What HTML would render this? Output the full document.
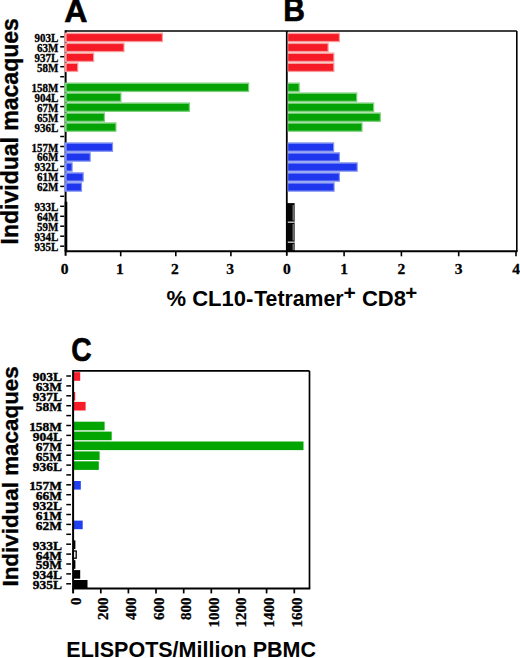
<!DOCTYPE html><html><head><meta charset="utf-8"><style>html,body{margin:0;padding:0;background:#fff;}svg{display:block}.sf{font-family:"Liberation Serif",serif;font-weight:bold}.ss{font-family:"Liberation Sans",sans-serif;font-weight:bold}</style></head><body>
<svg width="520" height="658" viewBox="0 0 520 658">
<rect width="520" height="658" fill="#fff"/>
<g stroke="#000" fill="none">
<line x1="65.6" y1="31.0" x2="516.8" y2="31.0" stroke-width="1.6"/>
<line x1="516.8" y1="31.0" x2="516.8" y2="251.3" stroke-width="1.6"/>
<line x1="64.8" y1="251.3" x2="517.5999999999999" y2="251.3" stroke-width="2"/>
<line x1="65.6" y1="30.2" x2="65.6" y2="255.8" stroke-width="2"/>
<line x1="286.8" y1="31.0" x2="286.8" y2="255.8" stroke-width="1.8"/>
<line x1="120.7" y1="251.3" x2="120.7" y2="256.3" stroke-width="1.6"/>
<line x1="175.8" y1="251.3" x2="175.8" y2="256.3" stroke-width="1.6"/>
<line x1="230.9" y1="251.3" x2="230.9" y2="256.3" stroke-width="1.6"/>
<line x1="344.1" y1="251.3" x2="344.1" y2="256.3" stroke-width="1.6"/>
<line x1="401.4" y1="251.3" x2="401.4" y2="256.3" stroke-width="1.6"/>
<line x1="458.7" y1="251.3" x2="458.7" y2="256.3" stroke-width="1.6"/>
<line x1="516.0" y1="251.3" x2="516.0" y2="256.3" stroke-width="1.6"/>
<line x1="60.2" y1="36.8" x2="64.2" y2="36.8" stroke-width="1.5"/>
<line x1="60.2" y1="46.8" x2="64.2" y2="46.8" stroke-width="1.5"/>
<line x1="60.2" y1="56.7" x2="64.2" y2="56.7" stroke-width="1.5"/>
<line x1="60.2" y1="66.7" x2="64.2" y2="66.7" stroke-width="1.5"/>
<line x1="60.2" y1="76.7" x2="64.2" y2="76.7" stroke-width="1.5"/>
<line x1="60.2" y1="86.7" x2="64.2" y2="86.7" stroke-width="1.5"/>
<line x1="60.2" y1="96.6" x2="64.2" y2="96.6" stroke-width="1.5"/>
<line x1="60.2" y1="106.6" x2="64.2" y2="106.6" stroke-width="1.5"/>
<line x1="60.2" y1="116.6" x2="64.2" y2="116.6" stroke-width="1.5"/>
<line x1="60.2" y1="126.5" x2="64.2" y2="126.5" stroke-width="1.5"/>
<line x1="60.2" y1="136.5" x2="64.2" y2="136.5" stroke-width="1.5"/>
<line x1="60.2" y1="146.5" x2="64.2" y2="146.5" stroke-width="1.5"/>
<line x1="60.2" y1="156.4" x2="64.2" y2="156.4" stroke-width="1.5"/>
<line x1="60.2" y1="166.4" x2="64.2" y2="166.4" stroke-width="1.5"/>
<line x1="60.2" y1="176.4" x2="64.2" y2="176.4" stroke-width="1.5"/>
<line x1="60.2" y1="186.4" x2="64.2" y2="186.4" stroke-width="1.5"/>
<line x1="60.2" y1="196.3" x2="64.2" y2="196.3" stroke-width="1.5"/>
<line x1="60.2" y1="206.3" x2="64.2" y2="206.3" stroke-width="1.5"/>
<line x1="60.2" y1="216.3" x2="64.2" y2="216.3" stroke-width="1.5"/>
<line x1="60.2" y1="226.2" x2="64.2" y2="226.2" stroke-width="1.5"/>
<line x1="60.2" y1="236.2" x2="64.2" y2="236.2" stroke-width="1.5"/>
<line x1="60.2" y1="246.2" x2="64.2" y2="246.2" stroke-width="1.5"/>
</g>
<rect x="64.5" y="32.6" width="98.5" height="9.6" fill="#f79a9a"/>
<rect x="66.7" y="34.1" width="95.1" height="6.8" fill="#f51a26"/>
<rect x="287.7" y="32.6" width="52.3" height="9.6" fill="#f79a9a"/>
<rect x="288.3" y="34.1" width="50.5" height="6.8" fill="#f51a26"/>
<rect x="64.5" y="42.6" width="60.1" height="9.6" fill="#f79a9a"/>
<rect x="66.7" y="44.1" width="56.7" height="6.8" fill="#f51a26"/>
<rect x="287.7" y="42.6" width="41.0" height="9.6" fill="#f79a9a"/>
<rect x="288.3" y="44.1" width="39.2" height="6.8" fill="#f51a26"/>
<rect x="64.5" y="52.5" width="29.7" height="9.6" fill="#f79a9a"/>
<rect x="66.7" y="54.0" width="26.3" height="6.8" fill="#f51a26"/>
<rect x="287.7" y="52.5" width="46.7" height="9.6" fill="#f79a9a"/>
<rect x="288.3" y="54.0" width="44.9" height="6.8" fill="#f51a26"/>
<rect x="64.5" y="62.5" width="13.8" height="9.6" fill="#f79a9a"/>
<rect x="66.7" y="64.0" width="10.4" height="6.8" fill="#f51a26"/>
<rect x="287.7" y="62.5" width="46.7" height="9.6" fill="#f79a9a"/>
<rect x="288.3" y="64.0" width="44.9" height="6.8" fill="#f51a26"/>
<rect x="64.5" y="82.5" width="184.7" height="9.6" fill="#7cd27c"/>
<rect x="66.7" y="84.0" width="181.3" height="6.8" fill="#04a204"/>
<rect x="287.7" y="82.5" width="12.1" height="9.6" fill="#7cd27c"/>
<rect x="288.3" y="84.0" width="10.3" height="6.8" fill="#04a204"/>
<rect x="64.5" y="92.4" width="57.0" height="9.6" fill="#7cd27c"/>
<rect x="66.7" y="93.9" width="53.6" height="6.8" fill="#04a204"/>
<rect x="287.7" y="92.4" width="69.6" height="9.6" fill="#7cd27c"/>
<rect x="288.3" y="93.9" width="67.8" height="6.8" fill="#04a204"/>
<rect x="64.5" y="102.4" width="125.5" height="9.6" fill="#7cd27c"/>
<rect x="66.7" y="103.9" width="122.1" height="6.8" fill="#04a204"/>
<rect x="287.7" y="102.4" width="86.5" height="9.6" fill="#7cd27c"/>
<rect x="288.3" y="103.9" width="84.7" height="6.8" fill="#04a204"/>
<rect x="64.5" y="112.4" width="40.5" height="9.6" fill="#7cd27c"/>
<rect x="66.7" y="113.9" width="37.1" height="6.8" fill="#04a204"/>
<rect x="287.7" y="112.4" width="93.2" height="9.6" fill="#7cd27c"/>
<rect x="288.3" y="113.9" width="91.4" height="6.8" fill="#04a204"/>
<rect x="64.5" y="122.3" width="52.0" height="9.6" fill="#7cd27c"/>
<rect x="66.7" y="123.8" width="48.6" height="6.8" fill="#04a204"/>
<rect x="287.7" y="122.3" width="74.9" height="9.6" fill="#7cd27c"/>
<rect x="288.3" y="123.8" width="73.1" height="6.8" fill="#04a204"/>
<rect x="64.5" y="142.3" width="48.6" height="9.6" fill="#8192f2"/>
<rect x="66.7" y="143.8" width="45.2" height="6.8" fill="#1e37ee"/>
<rect x="287.7" y="142.3" width="46.5" height="9.6" fill="#8192f2"/>
<rect x="288.3" y="143.8" width="44.7" height="6.8" fill="#1e37ee"/>
<rect x="64.5" y="152.2" width="26.3" height="9.6" fill="#8192f2"/>
<rect x="66.7" y="153.7" width="22.9" height="6.8" fill="#1e37ee"/>
<rect x="287.7" y="152.2" width="52.3" height="9.6" fill="#8192f2"/>
<rect x="288.3" y="153.7" width="50.5" height="6.8" fill="#1e37ee"/>
<rect x="64.5" y="162.2" width="8.2" height="9.6" fill="#8192f2"/>
<rect x="66.7" y="163.7" width="4.8" height="6.8" fill="#1e37ee"/>
<rect x="287.7" y="162.2" width="70.1" height="9.6" fill="#8192f2"/>
<rect x="288.3" y="163.7" width="68.3" height="6.8" fill="#1e37ee"/>
<rect x="64.5" y="172.2" width="19.3" height="9.6" fill="#8192f2"/>
<rect x="66.7" y="173.7" width="15.9" height="6.8" fill="#1e37ee"/>
<rect x="287.7" y="172.2" width="52.3" height="9.6" fill="#8192f2"/>
<rect x="288.3" y="173.7" width="50.5" height="6.8" fill="#1e37ee"/>
<rect x="64.5" y="182.2" width="17.6" height="9.6" fill="#8192f2"/>
<rect x="66.7" y="183.7" width="14.2" height="6.8" fill="#1e37ee"/>
<rect x="287.7" y="182.2" width="47.0" height="9.6" fill="#8192f2"/>
<rect x="288.3" y="183.7" width="45.2" height="6.8" fill="#1e37ee"/>
<rect x="64.7" y="201.7" width="2.6" height="49.6" fill="#000"/>
<rect x="286.8" y="203.1" width="7.8" height="48.2" fill="#050505"/>
<rect x="287.8" y="221.6" width="6.8" height="1.1" fill="#fff"/>
<rect x="287.8" y="241.6" width="6.8" height="1.1" fill="#fff"/>
<rect x="292.6" y="205" width="1.2" height="15.5" fill="#8a8a8a"/>
<rect x="292.6" y="224" width="1.2" height="16.5" fill="#8a8a8a"/>
<rect x="292.6" y="244" width="1.2" height="6" fill="#8a8a8a"/>
<g class="sf" font-size="11" text-anchor="end" fill="#000" stroke="#000" stroke-width="0.3">
<text transform="translate(58.4,41.8) scale(1,1.12)">903L</text>
<text transform="translate(58.4,51.8) scale(1,1.12)">63M</text>
<text transform="translate(58.4,61.7) scale(1,1.12)">937L</text>
<text transform="translate(58.4,71.7) scale(1,1.12)">58M</text>
<text transform="translate(58.4,91.7) scale(1,1.12)">158M</text>
<text transform="translate(58.4,101.6) scale(1,1.12)">904L</text>
<text transform="translate(58.4,111.6) scale(1,1.12)">67M</text>
<text transform="translate(58.4,121.6) scale(1,1.12)">65M</text>
<text transform="translate(58.4,131.5) scale(1,1.12)">936L</text>
<text transform="translate(58.4,151.5) scale(1,1.12)">157M</text>
<text transform="translate(58.4,161.4) scale(1,1.12)">66M</text>
<text transform="translate(58.4,171.4) scale(1,1.12)">932L</text>
<text transform="translate(58.4,181.4) scale(1,1.12)">61M</text>
<text transform="translate(58.4,191.4) scale(1,1.12)">62M</text>
<text transform="translate(58.4,211.3) scale(1,1.12)">933L</text>
<text transform="translate(58.4,221.3) scale(1,1.12)">64M</text>
<text transform="translate(58.4,231.2) scale(1,1.12)">59M</text>
<text transform="translate(58.4,241.2) scale(1,1.12)">934L</text>
<text transform="translate(58.4,251.2) scale(1,1.12)">935L</text>
</g>
<g class="sf" font-size="15.5" text-anchor="middle" fill="#000" stroke="#000" stroke-width="0.3">
<text x="64.7" y="274.4">0</text>
<text x="119.8" y="274.4">1</text>
<text x="174.9" y="274.4">2</text>
<text x="230.0" y="274.4">3</text>
<text x="286.8" y="274.4">0</text>
<text x="344.1" y="274.4">1</text>
<text x="401.4" y="274.4">2</text>
<text x="458.7" y="274.4">3</text>
<text x="516.0" y="274.4">4</text>
</g>
<rect x="73.1" y="372.2" width="7.1" height="8.6" fill="#f81c28"/>
<rect x="73.1" y="392.0" width="2.1" height="8.6" fill="#f81c28"/>
<rect x="73.1" y="401.9" width="12.5" height="8.6" fill="#f81c28"/>
<rect x="73.1" y="421.7" width="31.5" height="8.6" fill="#02a502"/>
<rect x="73.1" y="431.6" width="38.6" height="8.6" fill="#02a502"/>
<rect x="73.1" y="441.5" width="230.4" height="8.6" fill="#02a502"/>
<rect x="73.1" y="451.4" width="26.5" height="8.6" fill="#02a502"/>
<rect x="73.1" y="461.3" width="25.7" height="8.6" fill="#02a502"/>
<rect x="73.1" y="481.0" width="7.7" height="8.6" fill="#2040f0"/>
<rect x="73.1" y="520.6" width="9.6" height="8.6" fill="#2040f0"/>
<rect x="73.1" y="540.4" width="2.3" height="8.6" fill="#000000"/>
<rect x="73.1" y="551.0" width="3.1" height="7.2" fill="#fff" stroke="#000" stroke-width="1.3"/>
<rect x="73.1" y="560.2" width="2.3" height="8.6" fill="#000000"/>
<rect x="73.1" y="570.1" width="7.1" height="8.6" fill="#000000"/>
<rect x="73.1" y="580.0" width="14.4" height="8.6" fill="#000000"/>
<g stroke="#000" fill="none">
<line x1="73.1" y1="370.9" x2="309.5" y2="370.9" stroke-width="1.7"/>
<line x1="309.5" y1="370.9" x2="309.5" y2="588.4" stroke-width="1.7"/>
<line x1="72.3" y1="588.4" x2="310.3" y2="588.4" stroke-width="2"/>
<line x1="73.1" y1="370.09999999999997" x2="73.1" y2="593.4" stroke-width="2"/>
<line x1="100.8" y1="588.4" x2="100.8" y2="593.4" stroke-width="1.7"/>
<line x1="128.4" y1="588.4" x2="128.4" y2="593.4" stroke-width="1.7"/>
<line x1="156.0" y1="588.4" x2="156.0" y2="593.4" stroke-width="1.7"/>
<line x1="183.7" y1="588.4" x2="183.7" y2="593.4" stroke-width="1.7"/>
<line x1="211.3" y1="588.4" x2="211.3" y2="593.4" stroke-width="1.7"/>
<line x1="239.0" y1="588.4" x2="239.0" y2="593.4" stroke-width="1.7"/>
<line x1="266.6" y1="588.4" x2="266.6" y2="593.4" stroke-width="1.7"/>
<line x1="294.3" y1="588.4" x2="294.3" y2="593.4" stroke-width="1.7"/>
<line x1="66.3" y1="376.0" x2="71" y2="376.0" stroke-width="1.5"/>
<line x1="66.3" y1="385.9" x2="71" y2="385.9" stroke-width="1.5"/>
<line x1="66.3" y1="395.8" x2="71" y2="395.8" stroke-width="1.5"/>
<line x1="66.3" y1="405.7" x2="71" y2="405.7" stroke-width="1.5"/>
<line x1="66.3" y1="415.6" x2="71" y2="415.6" stroke-width="1.5"/>
<line x1="66.3" y1="425.5" x2="71" y2="425.5" stroke-width="1.5"/>
<line x1="66.3" y1="435.4" x2="71" y2="435.4" stroke-width="1.5"/>
<line x1="66.3" y1="445.3" x2="71" y2="445.3" stroke-width="1.5"/>
<line x1="66.3" y1="455.2" x2="71" y2="455.2" stroke-width="1.5"/>
<line x1="66.3" y1="465.1" x2="71" y2="465.1" stroke-width="1.5"/>
<line x1="66.3" y1="474.9" x2="71" y2="474.9" stroke-width="1.5"/>
<line x1="66.3" y1="484.8" x2="71" y2="484.8" stroke-width="1.5"/>
<line x1="66.3" y1="494.7" x2="71" y2="494.7" stroke-width="1.5"/>
<line x1="66.3" y1="504.6" x2="71" y2="504.6" stroke-width="1.5"/>
<line x1="66.3" y1="514.5" x2="71" y2="514.5" stroke-width="1.5"/>
<line x1="66.3" y1="524.4" x2="71" y2="524.4" stroke-width="1.5"/>
<line x1="66.3" y1="534.3" x2="71" y2="534.3" stroke-width="1.5"/>
<line x1="66.3" y1="544.2" x2="71" y2="544.2" stroke-width="1.5"/>
<line x1="66.3" y1="554.1" x2="71" y2="554.1" stroke-width="1.5"/>
<line x1="66.3" y1="564.0" x2="71" y2="564.0" stroke-width="1.5"/>
<line x1="66.3" y1="573.9" x2="71" y2="573.9" stroke-width="1.5"/>
<line x1="66.3" y1="583.8" x2="71" y2="583.8" stroke-width="1.5"/>
</g>
<g class="sf" font-size="13" text-anchor="end" fill="#000" stroke="#000" stroke-width="0.4">
<text transform="translate(62.0,381.4) scale(1.035,1)">903L</text>
<text transform="translate(62.0,391.3) scale(1.035,1)">63M</text>
<text transform="translate(62.0,401.2) scale(1.035,1)">937L</text>
<text transform="translate(62.0,411.1) scale(1.035,1)">58M</text>
<text transform="translate(62.0,430.9) scale(1.035,1)">158M</text>
<text transform="translate(62.0,440.8) scale(1.035,1)">904L</text>
<text transform="translate(62.0,450.7) scale(1.035,1)">67M</text>
<text transform="translate(62.0,460.6) scale(1.035,1)">65M</text>
<text transform="translate(62.0,470.5) scale(1.035,1)">936L</text>
<text transform="translate(62.0,490.2) scale(1.035,1)">157M</text>
<text transform="translate(62.0,500.1) scale(1.035,1)">66M</text>
<text transform="translate(62.0,510.0) scale(1.035,1)">932L</text>
<text transform="translate(62.0,519.9) scale(1.035,1)">61M</text>
<text transform="translate(62.0,529.8) scale(1.035,1)">62M</text>
<text transform="translate(62.0,549.6) scale(1.035,1)">933L</text>
<text transform="translate(62.0,559.5) scale(1.035,1)">64M</text>
<text transform="translate(62.0,569.4) scale(1.035,1)">59M</text>
<text transform="translate(62.0,579.3) scale(1.035,1)">934L</text>
<text transform="translate(62.0,589.2) scale(1.035,1)">935L</text>
</g>
<g class="sf" font-size="15" text-anchor="end" fill="#000" stroke="#000" stroke-width="0.3">
<text transform="translate(80.6,597.6) rotate(-90)" x="0" y="0">0</text>
<text transform="translate(108.2,597.6) rotate(-90)" x="0" y="0">200</text>
<text transform="translate(135.9,597.6) rotate(-90)" x="0" y="0">400</text>
<text transform="translate(163.5,597.6) rotate(-90)" x="0" y="0">600</text>
<text transform="translate(191.2,597.6) rotate(-90)" x="0" y="0">800</text>
<text transform="translate(218.8,597.6) rotate(-90)" x="0" y="0">1000</text>
<text transform="translate(246.4,597.6) rotate(-90)" x="0" y="0">1200</text>
<text transform="translate(274.1,597.6) rotate(-90)" x="0" y="0">1400</text>
<text transform="translate(301.7,597.6) rotate(-90)" x="0" y="0">1600</text>
</g>
<g class="ss" font-size="30" fill="#000" stroke="#000" stroke-width="0.6">
<text transform="translate(64.3,21.6) scale(1.07,1.05)">A</text>
<text transform="translate(283.3,21.4) scale(1,1.08)">B</text>
<text transform="translate(71.3,360.5) scale(0.94,1.135)">C</text>
</g>
<g class="ss" font-size="23" fill="#000" text-anchor="middle" stroke="#000" stroke-width="0.35">
<text transform="translate(17.7,131.3) rotate(-90)">Individual macaques</text>
<text transform="translate(17.5,476.4) rotate(-90)" font-size="22.4">Individual macaques</text>
</g>
<g class="ss" fill="#000"><text font-size="22" x="166.5" y="305.5">% CL10-</text><text font-size="22" x="254.2" y="305.5" textLength="89.3" lengthAdjust="spacingAndGlyphs">Tetramer</text><text font-size="21" x="343.5" y="299.8">+</text><text font-size="22" x="361.9" y="305.5">CD8</text><text font-size="20.5" x="405.2" y="300.4">+</text></g>
<text class="ss" font-size="21.5" x="66.3" y="656.8">ELISPOTS/Million PBMC</text>
</svg></body></html>
